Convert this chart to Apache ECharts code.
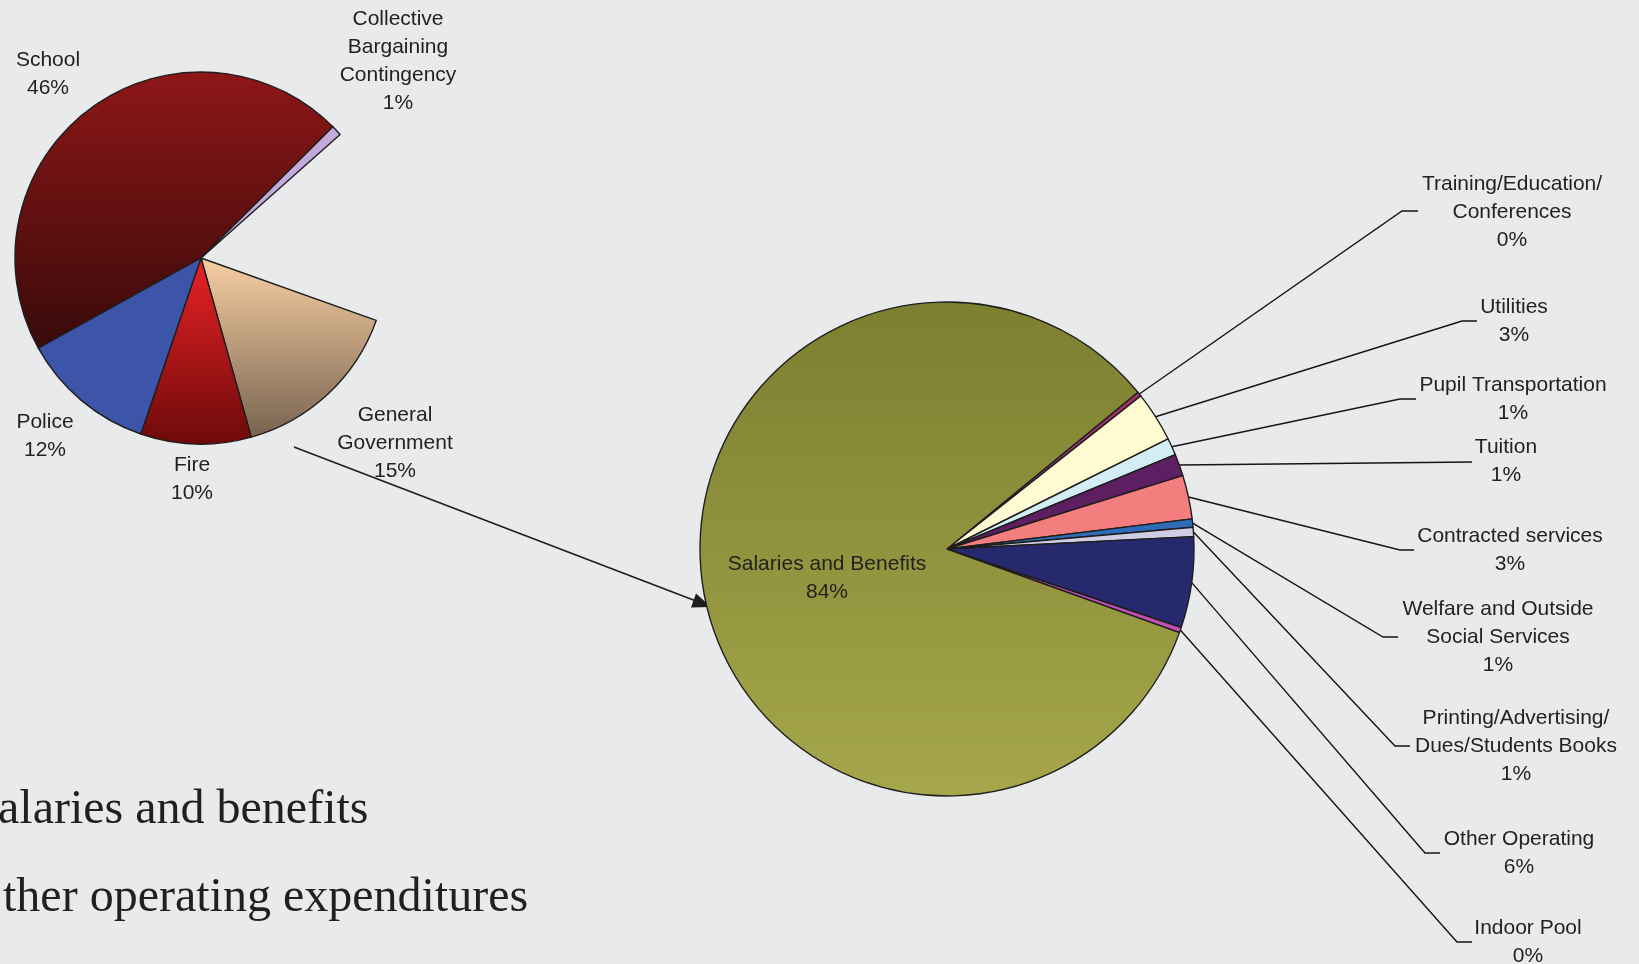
<!DOCTYPE html>
<html><head><meta charset="utf-8">
<script src="https://cdn.jsdelivr.net/npm/echarts@6/dist/echarts.min.js"></script>
<style>html,body{margin:0;padding:0;background:#E9EAEC;overflow:hidden}#c{width:1639px;height:964px}</style>
</head><body><div id="c"></div>
<script>
// ---- data ----
const leftNames = ['School', 'Collective\nBargaining\nContingency', 'Remainder', 'General\nGovernment', 'Fire', 'Police'];
const leftValues = [45.6, 0.9, 17.0, 15.2, 9.6, 11.7];

const rightNames = ['Training/Education/\nConferences', 'Utilities', 'Pupil Transportation', 'Tuition',
  'Contracted services', 'Welfare and Outside\nSocial Services', 'Printing/Advertising/\nDues/Students Books',
  'Other Operating', 'Indoor Pool', 'Salaries and Benefits'];
const rightValues = [0.3, 3.3, 1.1, 1.45, 2.85, 0.55, 0.6, 5.95, 0.35, 83.6];

const bulletLines = ['alaries and benefits', 'ther operating expenditures'];

// ---- styles / layout ----
const grad = (a, b) => ({type: 'linear', x: 0, y: 0, x2: 0, y2: 1, colorStops: [{offset: 0, color: a}, {offset: 1, color: b}]});
const leftColors = [grad('#8E1717', '#380A0A'), '#C4A9DB', 'rgba(0,0,0,0)', grad('#F8CFA3', '#786350'), grad('#EA2226', '#6E0A0A'), '#3C55A8'];
const rightColors = ['#A0306E', '#FFFAD2', '#D3EDF4', '#5E1E62', '#F47E7E', '#2F6BB6', '#CFCDE6', '#27296F', '#C24FB2', grad('#7B7F2F', '#A6A74B')];

const leftLabelPos = [[48, 74], [398, 61], null, [395, 443], [192, 479], [45, 436]];
const rightLabelPos = [[1512, 212], [1514, 321], [1513, 399], [1506, 461], [1510, 550], [1498, 637], [1516, 746], [1519, 853], [1528, 942], [827, 578]];
const rightElbow = [[1402, 211, 1418], [1462, 321, 1477], [1400, 399, 1416], [1472, 462, 1472], [1400, 550, 1414], [1383, 637, 1398], [1395, 746, 1410], [1425, 853, 1440], [1457, 942, 1472], null];

const labelFont = {fontFamily: '"Liberation Sans", Arial, sans-serif', fontSize: 21, lineHeight: 28, color: '#222', align: 'center'};
const fmt = p => p.name + '\n' + Math.round(p.percent) + '%';

const leftData = leftNames.map((n, i) => {
  const d = {name: n, value: leftValues[i], itemStyle: {color: leftColors[i]}};
  if (i === 2) { d.itemStyle.borderWidth = 0; d.label = {show: false}; }
  return d;
});
const rightData = rightNames.map((n, i) => {
  const d = {name: n, value: rightValues[i], itemStyle: {color: rightColors[i]}};
  if (i === rightNames.length - 1) d.labelLine = {show: false};
  return d;
});

const chart = echarts.init(document.getElementById('c'), null, {renderer: 'canvas'});
chart.setOption({
  backgroundColor: '#E9EAEC',
  animation: false,
  series: [
    {
      type: 'pie', silent: true, center: [201, 258], radius: [0, 186], startAngle: 209, clockwise: true,
      avoidLabelOverlap: false,
      itemStyle: {borderColor: '#1E1E1E', borderWidth: 1.4},
      label: Object.assign({show: true, position: 'outside', formatter: fmt}, labelFont),
      labelLine: {show: false},
      labelLayout: p => {
        const pos = leftLabelPos[p.dataIndex];
        if (!pos) return {};
        return {x: pos[0], y: pos[1], align: 'center', verticalAlign: 'middle'};
      },
      data: leftData
    },
    {
      type: 'pie', silent: true, center: [947, 549], radius: [0, 247], startAngle: 39.4, clockwise: true,
      avoidLabelOverlap: false,
      itemStyle: {borderColor: '#1E1E1E', borderWidth: 1.4},
      label: Object.assign({show: true, position: 'outside', formatter: fmt}, labelFont),
      labelLine: {show: true, length: 20, length2: 20, lineStyle: {color: '#151515', width: 1.4}},
      labelLayout: p => {
        const i = p.dataIndex;
        const pos = rightLabelPos[i];
        const r = {x: pos[0], y: pos[1], align: 'center', verticalAlign: 'middle'};
        const e = rightElbow[i];
        if (e && p.labelLinePoints) {
          r.labelLinePoints = [p.labelLinePoints[0], [e[0], e[1]], [e[2], e[1]]];
        }
        return r;
      },
      data: rightData
    }
  ],
  graphic: [
    {type: 'line', silent: true, shape: {x1: 294, y1: 447, x2: 696, y2: 601}, style: {stroke: '#1E1E1E', lineWidth: 1.7}},
    {type: 'polygon', silent: true, shape: {points: [[711, 607], [691, 607.5], [696, 593.5]]}, style: {fill: '#1E1E1E'}},
    {type: 'text', silent: true, left: -2, top: 786, style: {text: bulletLines[0], font: '48px "Liberation Serif", "Times New Roman", serif', fill: '#231F20'}},
    {type: 'text', silent: true, left: 3, top: 874, style: {text: bulletLines[1], font: '48px "Liberation Serif", "Times New Roman", serif', fill: '#231F20'}}
  ]
});
</script>
</body></html>
